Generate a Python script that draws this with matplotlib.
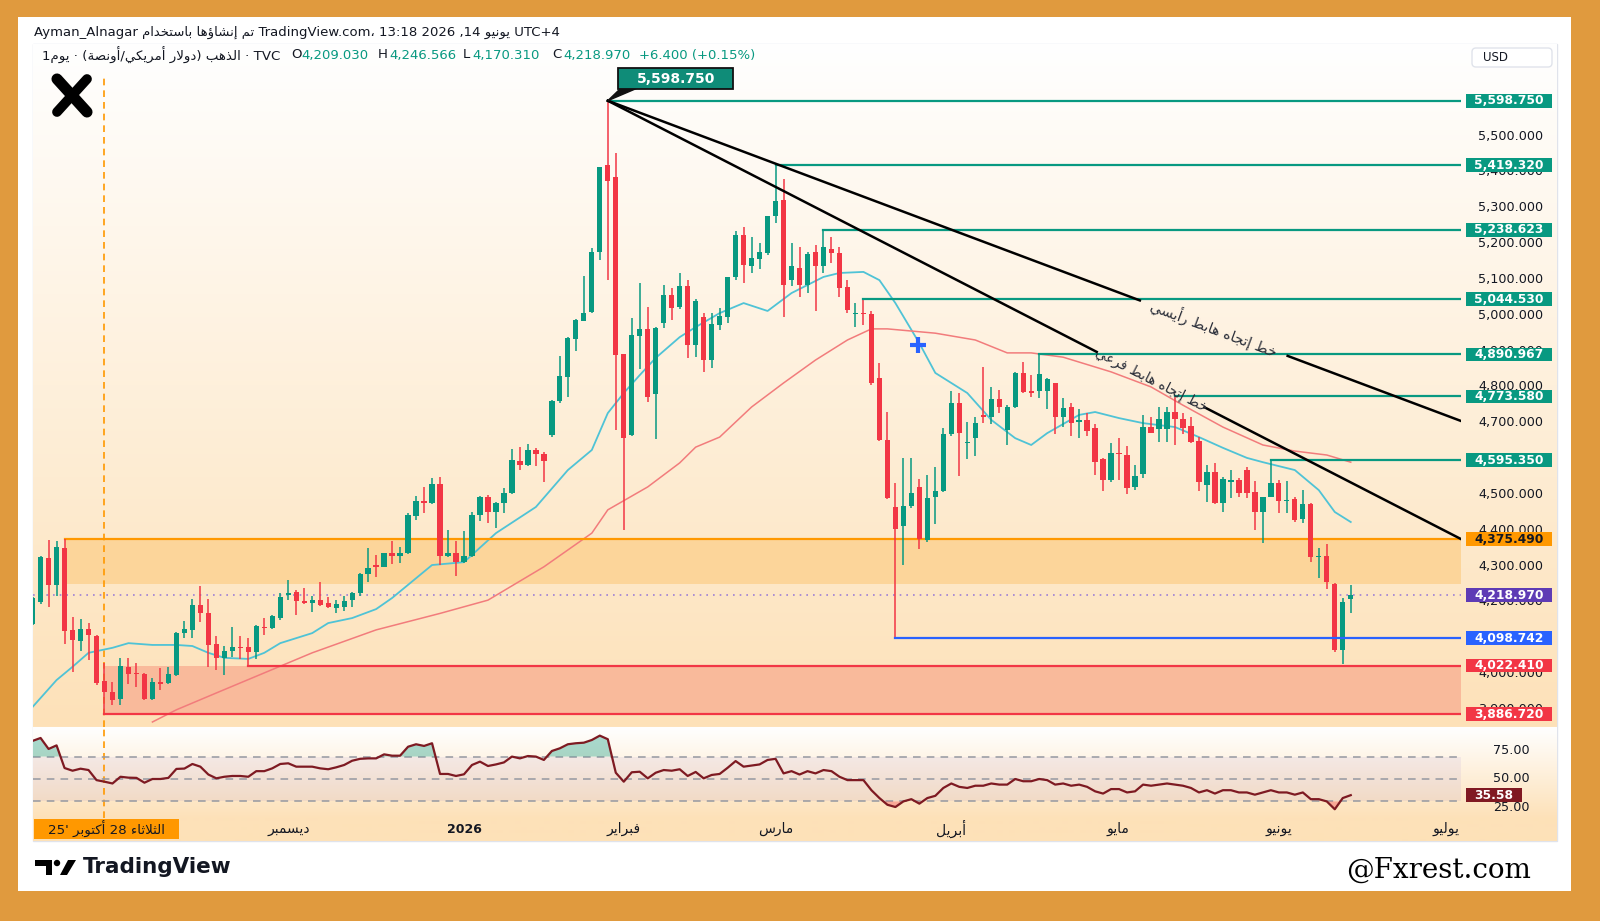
import numpy as np
import matplotlib
matplotlib.use("Agg")
import matplotlib.pyplot as plt
from matplotlib.patches import Rectangle, Polygon, Circle, FancyBboxPatch
import matplotlib.transforms as mtransforms

W, H = 1600, 921

# ---------------- data (daily gold candles) ----------------
opens = [4138, 4200, 4323, 4247, 4350, 4122, 4091, 4125, 4105, 3979,
         3949, 3929, 4018, 4002, 3999, 3929, 3977, 3974, 3996, 4113,
         4122, 4191, 4169, 4083, 4044, 4063, 4074, 4074, 4060, 4130,
         4127, 4155, 4219, 4228, 4203, 4197, 4205, 4197, 4183, 4186,
         4205, 4225, 4278, 4303, 4297, 4337, 4328, 4337, 4440,
         4482, 4476, 4529, 4328, 4337, 4311, 4328, 4443, 4493, 4451,
         4476, 4504, 4593, 4582, 4624, 4613, 4666, 4761, 4828, 4934,
         4984, 5009, 5176, 5419, 5386, 4892, 4666, 4942, 4962, 4780,
         4978, 5056, 5023, 5081, 4917, 4995, 4875, 4973, 4995, 5107,
         5224, 5137, 5157, 5174, 5277, 5321, 5098, 5132, 5084, 5176,
         5137, 5185, 5174, 5079, 5003, 5006, 5003, 4825, 4652, 4465,
         4412, 4468, 4521, 4373, 4493, 4510, 4669, 4755, 4644, 4657,
         4722, 4716, 4766, 4680, 4744, 4839, 4789, 4789, 4789, 4811,
         4716, 4744, 4702, 4708, 4685, 4599, 4540, 4616, 4610, 4521,
         4557, 4688, 4683, 4683, 4730, 4710, 4691, 4649, 4526, 4563,
         4476, 4535, 4540, 4568, 4507, 4451, 4493, 4532, 4482, 4487,
         4432, 4473, 4325, 4328, 4250, 4066, 4209.03]
highs = [4214, 4328, 4372, 4370, 4375.49, 4158, 4152, 4141, 4108, 4030,
         3977, 4044, 4044, 4030, 4002, 3988, 4016, 4018, 4116, 4147,
         4208, 4245, 4208, 4105, 4077, 4130, 4105, 4099, 4136, 4155,
         4164, 4225, 4261, 4233, 4239, 4217, 4256, 4214, 4205, 4217,
         4228, 4281, 4350, 4331, 4337, 4370, 4353, 4448, 4496,
         4521, 4546, 4549, 4401, 4370, 4398, 4451, 4496, 4498, 4479,
         4518, 4627, 4632, 4641, 4630, 4618, 4763, 4886, 4939, 4989,
         5109, 5188, 5414, 5598.75, 5453, 4892, 4992, 5090, 5023, 4967,
         5084, 5076, 5118, 5098, 5045, 5006, 5006, 5020, 5107, 5235,
         5246, 5218, 5201, 5277, 5419.32, 5380, 5201, 5190, 5176, 5196,
         5238.623, 5218, 5190, 5098, 5034, 5044.53, 5012, 4867, 4730, 4532,
         4602, 4602, 4543, 4554, 4577, 4685, 4789, 4783, 4702, 4716,
         4856, 4800, 4791, 4750, 4842, 4869, 4833, 4890.967, 4825, 4811,
         4769, 4755, 4738, 4727, 4696, 4602, 4643, 4657, 4635, 4582,
         4722, 4716, 4744, 4744, 4773.58, 4727, 4716, 4660, 4582, 4588,
         4549, 4568, 4546, 4577, 4537, 4493, 4595.35, 4540, 4537, 4493,
         4512, 4476, 4350, 4362, 4253, 4212, 4246.566]
lows = [4136, 4194, 4186, 4217, 4083, 4005, 4063, 4038, 3968, 3886.72,
        3913, 3913, 3971, 3963, 3926, 3926, 3954, 3971, 3993, 4099,
        4099, 4144, 4019, 4010, 3996, 4046, 4041, 4022.41, 4041, 4108,
        4125, 4150, 4205, 4164, 4194, 4172, 4189, 4183, 4169, 4175,
        4186, 4217, 4256, 4270, 4297, 4306, 4309, 4334, 4429,
        4448, 4473, 4303, 4325, 4272, 4309, 4325, 4426, 4420, 4406,
        4448, 4501, 4568, 4579, 4579, 4535, 4660, 4755, 4772, 4900,
        4984, 5006, 5154, 5098, 4680, 4401, 4663, 4850, 4758, 4655,
        4964, 4987, 5017, 4881, 4883, 4842, 4853, 4959, 4978, 5098,
        5090, 5118, 5129, 5168, 5257, 4995, 5082, 5051, 5062, 5012,
        5118, 5146, 5051, 5006, 4967, 4973, 4805, 4649, 4487, 4098.742,
        4303, 4462, 4348, 4367, 4417, 4507, 4663, 4551, 4599, 4607,
        4699, 4696, 4727, 4638, 4741, 4783, 4772, 4769, 4738, 4669,
        4688, 4663, 4657, 4663, 4554, 4510, 4535, 4540, 4501, 4512,
        4546, 4671, 4646, 4646, 4638, 4669, 4643, 4510, 4479, 4473,
        4451, 4490, 4493, 4490, 4401, 4364, 4493, 4448, 4448, 4423,
        4420, 4311, 4267, 4236, 4060, 4028, 4170.31]
closes = [4211, 4325, 4247, 4353, 4119, 4094, 4125, 4108, 3974, 3949,
          3926, 4021, 3999, 3999, 3929, 3977, 3971, 3999, 4113, 4125,
          4191, 4169, 4080, 4044, 4063, 4074, 4071, 4060, 4133, 4127,
          4161, 4214, 4225, 4203, 4197, 4205, 4191, 4186, 4194, 4203,
          4225, 4278, 4295, 4297, 4337, 4328, 4337, 4443, 4482,
          4476, 4529, 4328, 4337, 4311, 4328, 4443, 4493, 4451, 4476,
          4504, 4596, 4582, 4624, 4613, 4593, 4761, 4830, 4936, 4987,
          5006, 5176, 5414, 5374, 4889, 4657, 4945, 4962, 4772, 4964,
          5056, 5020, 5081, 4917, 5040, 4875, 4975, 4998, 5107, 5224,
          5140, 5160, 5176, 5277, 5319, 5084, 5137, 5084, 5171, 5137,
          5190, 5174, 5076, 5015, 5006, 5003, 4811, 4652, 4490, 4404,
          4468, 4504, 4376, 4490, 4510, 4669, 4755, 4671, 4646, 4699,
          4716, 4766, 4744, 4744, 4839, 4786, 4783, 4836, 4822, 4716,
          4741, 4699, 4708, 4677, 4590, 4540, 4616, 4613, 4518, 4551,
          4688, 4671, 4710, 4730, 4710, 4685, 4646, 4535, 4563, 4476,
          4543, 4540, 4504, 4504, 4451, 4493, 4532, 4482, 4484, 4429,
          4473, 4325, 4328, 4256, 4066, 4200, 4218.97]

# moving averages (candle index, value)
ma_fast_idx = [0, 3, 5, 7, 10, 12, 15, 18, 20, 22, 24, 27, 29, 31, 35, 37, 40, 43,
               45, 50, 54, 58, 63, 67, 70, 72, 74, 76, 78, 81, 83, 86, 89, 92, 95,
               99, 101, 104, 106, 108, 111, 113, 117, 120, 123, 125, 127, 131,
               133, 136, 139, 143, 146, 149, 152, 154, 158, 161, 163, 165]
ma_fast = [3907, 3982, 4019, 4058, 4072, 4085, 4080, 4080, 4077, 4058, 4044, 4041,
           4058, 4085, 4113, 4141, 4155, 4180, 4211, 4303, 4311, 4392, 4465, 4568,
           4624, 4727, 4783, 4833, 4881, 4939, 4967, 5006, 5034, 5012, 5062, 5107,
           5118, 5121, 5098, 5034, 4922, 4839, 4783, 4708, 4657, 4638, 4671, 4722,
           4730, 4713, 4699, 4688, 4660, 4630, 4602, 4590, 4568, 4512, 4451, 4423]
ma_slow_idx = [15, 18, 23, 29, 35, 43, 51, 57, 64, 70, 72, 77, 81, 83, 86, 90, 94,
               98, 102, 105, 107, 113, 118, 122, 125, 129, 135, 140, 144, 149, 154,
               158, 162, 165]
ma_slow = [3865, 3899, 3946, 4002, 4058, 4122, 4168, 4205, 4298, 4392, 4457, 4521,
           4588, 4632, 4660, 4744, 4811, 4875, 4931, 4962, 4962, 4950, 4931, 4895,
           4895, 4883, 4842, 4800, 4749, 4688, 4638, 4621, 4610, 4590]

rsi = [84, 86.6, 76.8, 80, 59.8, 57.4, 59.2, 58, 49, 47.6,
       46, 52, 51.2, 51, 46.7, 50, 50, 51, 59, 59.3,
       63.4, 61, 54, 50.6, 52, 52.7, 52.7, 52, 57, 57,
       59.5, 63.4, 64, 61, 61, 61, 59.5, 58.7, 60.4, 62.5,
       66.3, 68, 68.4, 68.4, 72, 70.8, 70.8, 78.8, 81, 79.5,
       81.9, 54.5, 54.5, 52.7, 54.2, 62.5, 65.5, 61.6, 63, 64.8,
       70, 68.4, 70.5, 70, 67, 75, 77.4, 81, 81.9, 82.4,
       84.8, 88.7, 85.5, 55.6, 47.6, 56, 56.5, 50.6, 55.6, 58,
       57.4, 58.7, 52.7, 56.3, 50.6, 53.6, 54.5, 60, 66,
       61, 62, 63, 67, 68, 55, 57, 54, 57, 55,
       58, 57, 52, 49, 49, 49, 40, 33, 27, 25,
       30, 32, 28, 33, 35, 42, 46, 43, 42, 44,
       44, 46, 45, 45, 50, 48, 48, 50, 49, 45,
       46, 44, 45, 43, 39, 37, 41, 41, 38, 39,
       45, 44, 45, 46, 45, 44, 42, 38, 40, 37,
       40, 40, 38, 38, 36, 38, 40, 38, 38, 36,
       38, 32, 32, 30, 23, 33, 35.58]

# horizontal levels: (start candle, price, line colour)
levels = [(72, 5598.75, "#089981"), (93, 5419.32, "#089981"), (99, 5238.623, "#089981"),
          (104, 5044.53, "#089981"), (126, 4890.967, "#089981"), (143, 4773.58, "#089981"),
          (155, 4595.35, "#089981"), (108, 4098.742, "#2962FF"), (27, 4022.41, "#F23645")]
zone_top = (4, 4250, 4375.49)
zone_low = (9, 3886.72, 4022.41)
last_price = 4218.97
last_rsi = 35.58
peak = (72, 5598.75)

month_pos = [32.1, 54.0, 74.0, 93.0, 114.9, 135.8, 156.0, 176.9]


# ---------------- minimal Arabic shaping (glyph forms + right-to-left order) ----------------
AR = {'\u0621': (0xFE80, 1), '\u0622': (0xFE81, 2), '\u0623': (0xFE83, 2), '\u0624': (0xFE85, 2),
      '\u0625': (0xFE87, 2), '\u0626': (0xFE89, 4), '\u0627': (0xFE8D, 2), '\u0628': (0xFE8F, 4),
      '\u0629': (0xFE93, 2), '\u062A': (0xFE95, 4), '\u062B': (0xFE99, 4), '\u062C': (0xFE9D, 4),
      '\u062D': (0xFEA1, 4), '\u062E': (0xFEA5, 4), '\u062F': (0xFEA9, 2), '\u0630': (0xFEAB, 2),
      '\u0631': (0xFEAD, 2), '\u0632': (0xFEAF, 2), '\u0633': (0xFEB1, 4), '\u0634': (0xFEB5, 4),
      '\u0635': (0xFEB9, 4), '\u0636': (0xFEBD, 4), '\u0637': (0xFEC1, 4), '\u0638': (0xFEC5, 4),
      '\u0639': (0xFEC9, 4), '\u063A': (0xFECD, 4), '\u0641': (0xFED1, 4), '\u0642': (0xFED5, 4),
      '\u0643': (0xFED9, 4), '\u0644': (0xFEDD, 4), '\u0645': (0xFEE1, 4), '\u0646': (0xFEE5, 4),
      '\u0647': (0xFEE9, 4), '\u0648': (0xFEED, 2), '\u0649': (0xFEEF, 2), '\u064A': (0xFEF1, 4)}
LAM_ALEF = {'\u0622': 0xFEF5, '\u0623': 0xFEF7, '\u0625': 0xFEF9, '\u0627': 0xFEFB}
MIRROR = {'(': ')', ')': '('}


def ar(text):
    out, prev, i, n = [], None, 0, len(text)
    while i < n:
        c = text[i]
        if c not in AR:
            out.append(MIRROR.get(c, c))
            prev = None
            i += 1
            continue
        base, nf = AR[c]
        link_prev = prev is not None and AR[prev][1] == 4
        if c == '\u0644' and i + 1 < n and text[i + 1] in LAM_ALEF:
            out.append(chr(LAM_ALEF[text[i + 1]] + (1 if link_prev else 0)))
            prev = text[i + 1]
            i += 2
            continue
        nxt = text[i + 1] if i + 1 < n else None
        link_next = nf == 4 and nxt in AR and nxt != '\u0621'
        if nf == 1:
            g = base
        elif link_prev and link_next:
            g = base + 3
        elif link_prev:
            g = base + 1
        elif link_next:
            g = base + 2
        else:
            g = base
        out.append(chr(g))
        prev = c
        i += 1
    return ''.join(reversed(out))


month_labels = [ar("ديسمبر"), "2026", ar("فبراير"), ar("مارس"), ar("أبريل"),
                ar("مايو"), ar("يونيو"), ar("يوليو")]

plt.rcParams['font.family'] = ['DejaVu Sans']
TXT = "#131722"
GREEN = "#089981"
RED = "#F23645"


def rect(x0, y0, x1, y1):
    return [x0 / W, 1 - y1 / H, (x1 - x0) / W, (y1 - y0) / H]


def ftext(x, y, s, **kw):
    return fig.text(x / W, 1 - y / H, s, **kw)


fig = plt.figure(figsize=(16, 9.21), dpi=100, facecolor="#E09A3E")

# frame
back = fig.add_axes([0, 0, 1, 1], zorder=-10)
back.set_xlim(0, W)
back.set_ylim(H, 0)
back.axis("off")
back.add_patch(Rectangle((18, 17), 1553, 874, fc="white", ec="none"))
back.add_patch(Rectangle((33, 44), 1524, 797, fc="none", ec="#E0E3EB", lw=1))

# gradient backgrounds of panes
bg = fig.add_axes(rect(33, 44, 1557, 841), zorder=-5)
ys = np.arange(44, 841)
img = np.zeros((len(ys), 1, 3))
top_c = np.array([255, 255, 255]) / 255
bot_c = np.array([253, 225, 184]) / 255
for i, y in enumerate(ys):
    if y < 727:
        t = (y - 44) / 683
    elif y < 818:
        t = (y - 727) / 91
    else:
        t = 1.0
    img[i, 0] = top_c + (bot_c - top_c) * t
bg.imshow(img, aspect="auto", extent=[0, 1, 0, 1])
bg.axis("off")

XL = (0.05, 178.8)
YL = (3851, 5757)

ax = fig.add_axes(rect(33, 44, 1461, 727))
ax.set_facecolor("none")
ax.set_xlim(*XL)
ax.set_ylim(*YL)
ax.axis("off")

pax = fig.add_axes(rect(1461, 44, 1557, 727))
pax.set_xlim(0, 1)
pax.set_ylim(*YL)
pax.axis("off")

rax = fig.add_axes(rect(33, 727, 1461, 818))
rax.set_facecolor("none")
rax.set_xlim(*XL)
rax.set_ylim(15.2, 96.4)
rax.axis("off")

rpax = fig.add_axes(rect(1461, 727, 1557, 818))
rpax.set_xlim(0, 1)
rpax.set_ylim(15.2, 96.4)
rpax.axis("off")

front = fig.add_axes([0, 0, 1, 1], zorder=20)
front.set_xlim(0, W)
front.set_ylim(H, 0)
front.axis("off")

# zones
k0, lo, hi = zone_top
ax.add_patch(Rectangle((k0, lo), XL[1] - k0, hi - lo, fc="#FCD59A", ec="none", zorder=1))
ax.plot([k0, XL[1]], [hi, hi], color="#FF9800", lw=1.6, zorder=4)
k0, lo, hi = zone_low
ax.add_patch(Rectangle((k0, lo), XL[1] - k0, hi - lo, fc="#F9BA9B", ec="none", zorder=1))
ax.plot([k0, XL[1]], [lo, lo], color=RED, lw=1.6, zorder=4)

# current price dotted line
ax.axhline(last_price, color="#9C7FD6", lw=1.2, ls=(0, (1, 3)), zorder=2)

# Oct-28 marker line
ax.plot([9, 9], [YL[0], 5665], color="#FF9800", lw=1.2, ls=(0, (4, 3)), zorder=2)
rax.axvline(9, color="#FF9800", lw=1.2, ls=(0, (4, 3)), zorder=2)

# moving averages
ax.plot(ma_fast_idx, ma_fast, color="#4FC3D6", lw=1.3, zorder=3)
ax.plot(ma_slow_idx, ma_slow, color="#F27C7C", lw=1.1, zorder=3)

# candles
o = np.array(opens)
c = np.array(closes)
hgh = np.maximum(np.array(highs), np.maximum(o, c))
low = np.minimum(np.array(lows), np.minimum(o, c))
idx = np.arange(len(o))
col = np.where(c >= o, GREEN, RED)
ax.vlines(idx, low, hgh, colors=col, lw=1.1, zorder=5)
body = np.maximum(np.abs(c - o), 3)
ax.bar(idx, body, bottom=np.minimum(o, c), width=0.66, color=col, zorder=6)

# horizontal level lines
for k, p, lc in levels:
    ax.plot([k, XL[1]], [p, p], color=lc, lw=1.6, zorder=7)

# trendlines with gaps for their labels
tl = [(peak, (178.8, 4705), (138.6, 157.1), ar("خط إتجاه هابط رأيسي"), 147.9, 10.3),
      (peak, (178.8, 4375.49), (133.2, 146.7), ar("خط إتجاه هابط فرعي"), 140.0, 9.8)]
for (xa, ya), (xb, yb), (g0, g1), label, xm, fs in tl:
    f = lambda x: ya + (yb - ya) * (x - xa) / (xb - xa)
    ax.plot([xa, g0], [ya, f(g0)], color="#000000", lw=1.8, zorder=8)
    ax.plot([g1, xb], [f(g1), yb], color="#000000", lw=1.8, zorder=8)
    ang = np.degrees(np.arctan2(yb - ya, xb - xa))
    ax.text(xm, f(xm), label, rotation=ang, transform_rotates_text=True,
            rotation_mode="anchor", ha="center", va="center", fontsize=fs,
            color="#2A2E39", zorder=8)

# peak callout
ax.add_patch(Polygon([peak, (73.6, 5633), (75.6, 5633)], closed=True,
                     fc="#111111", ec="#111111", lw=1, zorder=9))
ax.add_patch(Rectangle((73.3, 5631), 14.4, 59, fc="#0F8C78", ec="#111111", lw=1.3, zorder=9))
ax.text(80.5, 5660.5, "5,598.750", color="white", fontsize=10, fontweight="bold",
        ha="center", va="center", zorder=10)

# blue cross
ax.plot([110.8], [4917], marker="+", ms=11, mew=3, color="#2962FF", zorder=9)

# price scale (labels hidden behind boxes in the original are left out)
for p in [3900, 4000, 4200, 4300, 4400, 4500, 4700, 4800, 4900, 5000, 5100, 5200,
          5300, 5400, 5500]:
    pax.text(0.52, p, f"{p:,.3f}", ha="center", va="center", fontsize=9.2, color=TXT, zorder=1)
boxes = [(5598.75, GREEN, "white"), (5419.32, GREEN, "white"), (5238.623, GREEN, "white"),
         (5044.53, GREEN, "white"), (4890.967, GREEN, "white"), (4773.58, GREEN, "white"),
         (4595.35, GREEN, "white"), (4375.49, "#FF9800", TXT), (last_price, "#5E3BB5", "white"),
         (4098.742, "#2962FF", "white"), (4022.41, RED, "white"), (3886.72, RED, "white")]
for p, fc, tc in boxes:
    pax.add_patch(Rectangle((0.052, p - 19), 0.896, 38, fc=fc, ec="none", zorder=3))
    pax.text(0.5, p, f"{p:,.3f}", ha="center", va="center", fontsize=8.8,
             fontweight="bold", color=tc, zorder=4)
front.add_patch(FancyBboxPatch((1472, 48), 80, 19, boxstyle="round,pad=0,rounding_size=4",
                               fc="white", ec="#E0E3EB", lw=1))
front.text(1496, 57.5, "USD", ha="center", va="center", fontsize=8.5, color=TXT)

# RSI pane
r = np.array(rsi)
ri = np.arange(len(r))
rax.fill_between([XL[0], XL[1]], 30, 70, color="#9575CD", alpha=0.1, lw=0, zorder=1)
for lv in (70, 50, 30):
    rax.axhline(lv, color="#9598A1", lw=1.1, ls=(0, (5, 4)), zorder=2)
rax.fill_between(ri, r, 70, where=r > 70, interpolate=True, color=GREEN, alpha=0.35, lw=0, zorder=2)
rax.fill_between(ri, r, 30, where=r < 30, interpolate=True, color=RED, alpha=0.35, lw=0, zorder=2)
rax.plot(ri, r, color="#7E1A22", lw=1.6, zorder=3)
for v in (75, 50, 25):
    rpax.text(0.52, v, f"{v:.2f}", ha="center", va="center", fontsize=9.2, color=TXT, zorder=1)
rpax.add_patch(Rectangle((0.052, last_rsi - 6.2), 0.58, 12.4, fc="#801922", ec="none", zorder=3))
rpax.text(0.34, last_rsi, f"{last_rsi:.2f}", ha="center", va="center", fontsize=8.8,
          fontweight="bold", color="white", zorder=4)

# time axis
tr = mtransforms.blended_transform_factory(rax.transData, rax.transAxes)
for k, lab in zip(month_pos, month_labels):
    bold = lab == "2026"
    rax.text(k, -0.125, lab, transform=tr, ha="center", va="center",
             fontsize=9 if bold else 10, color=TXT,
             fontweight="bold" if bold else "normal", clip_on=False)
front.add_patch(Rectangle((34, 819), 145, 20, fc="#FF9800", ec="none"))
front.text(106.5, 829, "25' " + ar("أكتوبر") + " 28 " + ar("الثلاثاء"), ha="center",
           va="center", fontsize=9.6, color=TXT)

# header
ftext(34, 32, "Ayman_Alnagar " + ar("تم إنشاؤها باستخدام") + " TradingView.com، 13:18 2026 ,14 "
      + ar("يونيو") + " UTC+4", ha="left", va="center", fontsize=9.5, color=TXT)
ftext(42, 55, "1" + ar("يوم") + " · " + ar("الذهب (دولار أمريكي/أونصة)") + " · TVC",
      ha="left", va="center", fontsize=9.6, color=TXT)
for xl, lt, xv, val in [(291, "O", 301, "4,209.030"), (378, "H", 389, "4,246.566"),
                        (463, "L", 472, "4,170.310"), (552, "C", 563, "4,218.970")]:
    ftext(xl, 55, lt, ha="left", va="center", fontsize=9.5, color=TXT)
    ftext(xv, 55, val, ha="left", va="center", fontsize=9.5, color=GREEN)
ftext(639, 55, "+6.400 (+0.15%)", ha="left", va="center", fontsize=9.5, color=GREEN)

# X logo
front.plot([57, 87], [79, 112], color="black", lw=8, solid_capstyle="round")
front.plot([87, 57], [79, 112], color="black", lw=7, solid_capstyle="round")

# TradingView logo
front.add_patch(Polygon([(35, 860), (52, 860), (52, 875), (46, 875), (46, 866), (35, 866)],
                        closed=True, fc="black", ec="none"))
front.add_patch(Circle((57, 863), 3.2, fc="black", ec="none"))
front.add_patch(Polygon([(60, 875), (67, 875), (76, 860), (68, 860)], closed=True, fc="black", ec="none"))
front.text(83, 867, "TradingView", ha="left", va="center", fontsize=15.5, fontweight="bold",
           color="#131722")

# watermark
front.text(1531, 870, "@Fxrest.com", ha="right", va="center", fontsize=20, family="DejaVu Serif",
           color="black")

fig.savefig("out.png", dpi=100, facecolor=fig.get_facecolor())
